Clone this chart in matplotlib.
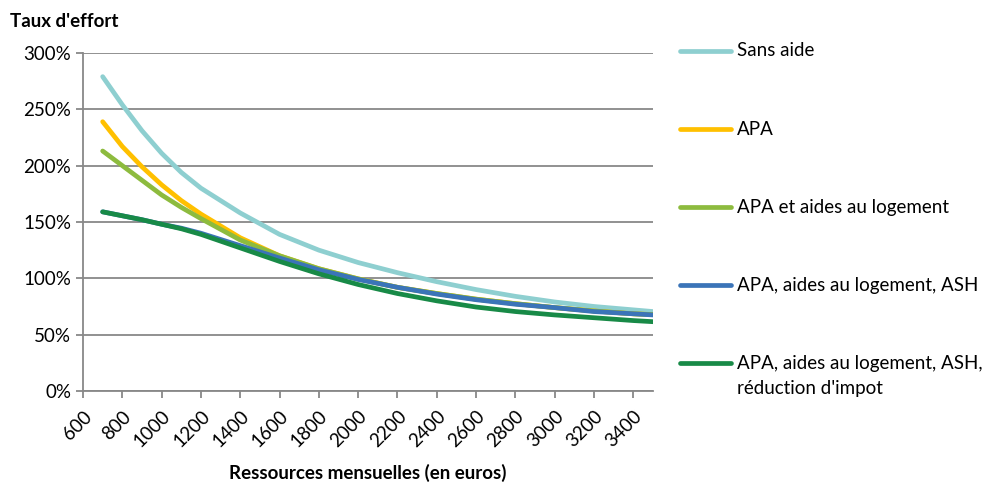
import numpy as np
import matplotlib.pyplot as plt
from matplotlib.lines import Line2D
from matplotlib.ticker import FuncFormatter

plt.rcParams['font.family'] = ['Lato', 'DejaVu Sans']

# Monthly resources (euros)
ressources = [700, 800, 900, 1000, 1100, 1200, 1400, 1600, 1800, 2000, 2200, 2400,
              2600, 2800, 3000, 3200, 3400, 3500]

# Effort rate (%) per scenario
sans_aide = [279, 254, 231, 211, 194, 180, 158, 139, 125, 114, 105, 97,
             90, 84, 79, 75, 72, 70.5]
apa = [239, 217, 199, 183, 169, 157, 136, 120, 108.5, 99.5, 92, 86.5,
       81.5, 77.5, 74, 71, 68.5, 67.8]
apa_logement = [213, 200, 187, 174, 163, 153, 134, 120, 108.5, 99.5, 92, 86.5,
                81.5, 77.5, 74, 71, 68.5, 67.8]
apa_log_ash = [159, 155.5, 152, 148, 144.5, 140, 129, 118, 107.5, 99, 92, 86,
               81, 77, 74, 70.5, 68.5, 67.5]
apa_log_ash_red = [159, 155.5, 152, 148, 144, 139, 127, 115, 104, 94.5, 86.5, 80,
                   74.5, 70.5, 67.5, 65, 62.5, 61.5]

labels = ["Sans aide", "APA", "APA et aides au logement",
          "APA, aides au logement, ASH",
          "APA, aides au logement, ASH,\nréduction d'impot"]
series = [sans_aide, apa, apa_logement, apa_log_ash, apa_log_ash_red]
colors = ['#8ECFD0', '#FFC000', '#8DBB3E', '#3B74B8', '#188A47']

fig = plt.figure(figsize=(9.93, 4.86), dpi=100)
ax = fig.add_axes([0.0836, 0.1955, 0.5740, 0.6955])

for vals, col in zip(series, colors):
    ax.plot(ressources, vals, color=col, lw=3.4, solid_capstyle='round',
            solid_joinstyle='round')

ax.set_xlim(600, 3500)
ax.set_ylim(0, 300)
ax.set_xticks(np.arange(600, 3401, 200))
ax.set_yticks(np.arange(0, 301, 50))
ax.yaxis.set_major_formatter(FuncFormatter(lambda v, p: f"{int(v)}%"))
ax.grid(axis='y', color='#888888', lw=1.3)
ax.set_axisbelow(True)
for s in ['top', 'right']:
    ax.spines[s].set_visible(False)
for s in ['left', 'bottom']:
    ax.spines[s].set_color('#888888')
    ax.spines[s].set_linewidth(1.3)
ax.tick_params(axis='both', colors='#888888', length=5, width=1.3,
               labelcolor='black', labelsize=13.5)
ax.tick_params(axis='x', pad=7)
plt.setp(ax.get_xticklabels(), rotation=45, ha='right', rotation_mode='anchor')

fig.text(0.010, 0.955, "Taux d'effort", fontsize=13.5, fontweight='bold', va='center')
fig.text(0.370, 0.027, "Ressources mensuelles (en euros)", fontsize=13.5,
         fontweight='bold', ha='center', va='center')

# legend drawn by hand to keep the spacing of the original
ys = [51, 129, 207, 285, 363]
for lab, col, y in zip(labels, colors, ys):
    fy = 1 - y / 486
    fig.add_artist(Line2D([680 / 993, 731 / 993], [fy, fy], color=col, lw=3.4,
                          solid_capstyle='round'))
    for i, line in enumerate(lab.split('\n')):
        fig.text(737 / 993, 1 - (y + 25 * i) / 486, line, fontsize=13.5, va='center')

fig.savefig('out.png', dpi=100)
